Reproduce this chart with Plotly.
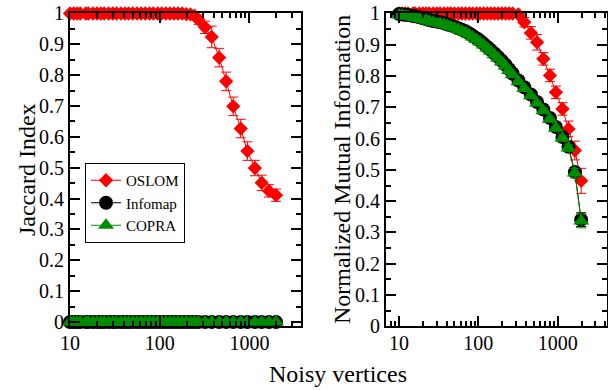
import plotly.graph_objects as go

# Number of noisy vertices added to the benchmark graph
noisy_vertices = [10, 11, 12, 13, 15, 16, 18, 20, 22, 24, 27, 30, 33, 37, 41, 45,
                  50, 56, 62, 69, 77, 85, 95, 105, 117, 130, 144, 160, 178, 198,
                  220, 244, 270, 320, 380, 460, 550, 660, 800, 950, 1150, 1370,
                  1650, 1980]

# Jaccard index
oslom_jaccard = [1.0, 1.0, 1.0, 1.0, 1.0, 1.0, 1.0, 1.0, 1.0, 1.0, 1.0, 1.0,
                 1.0, 1.0, 1.0, 1.0, 1.0, 1.0, 1.0, 1.0, 1.0, 1.0, 1.0, 1.0,
                 1.0, 1.0, 1.0, 1.0, 1.0, 0.998, 0.997, 0.993, 0.98, 0.955,
                 0.924, 0.857, 0.78, 0.699, 0.627, 0.554, 0.499, 0.451, 0.425,
                 0.411]
oslom_jaccard_err = [0, 0, 0, 0, 0, 0, 0, 0, 0, 0, 0, 0, 0, 0, 0, 0, 0, 0, 0, 0,
                     0, 0, 0, 0, 0, 0, 0, 0, 0, 0.004, 0.006, 0.01, 0.015, 0.02,
                     0.035, 0.03, 0.03, 0.03, 0.03, 0.03, 0.025, 0.025, 0.02,
                     0.02]
infomap_jaccard = [0.0, 0.0, 0.0, 0.0, 0.0, 0.0, 0.0, 0.0, 0.0, 0.0, 0.0, 0.0,
                   0.0, 0.0, 0.0, 0.0, 0.0, 0.0, 0.0, 0.0, 0.0, 0.0, 0.0, 0.0,
                   0.0, 0.0, 0.0, 0.0, 0.0, 0.0, 0.0, 0.0, 0.0, 0.0, 0.0, 0.0,
                   0.0, 0.0, 0.0, 0.0, 0.0, 0.0, 0.0, 0.0]
copra_jaccard = [0.0, 0.0, 0.0, 0.0, 0.0, 0.0, 0.0, 0.0, 0.0, 0.0, 0.0, 0.0,
                 0.0, 0.0, 0.0, 0.0, 0.0, 0.0, 0.0, 0.0, 0.0, 0.0, 0.0, 0.0,
                 0.0, 0.0, 0.0, 0.0, 0.0, 0.0, 0.0, 0.0, 0.0, 0.0, 0.0, 0.0,
                 0.0, 0.0, 0.0, 0.0, 0.0, 0.0, 0.0, 0.0]

# Normalized mutual information
oslom_nmi = [1.0, 1.0, 1.0, 1.0, 1.0, 1.0, 1.0, 1.0, 1.0, 1.0, 1.0, 1.0, 1.0,
             1.0, 1.0, 1.0, 1.0, 1.0, 1.0, 1.0, 1.0, 1.0, 1.0, 1.0, 1.0, 1.0,
             1.0, 1.0, 1.0, 1.0, 1.0, 1.0, 1.0, 0.997, 0.972, 0.938, 0.908,
             0.855, 0.802, 0.748, 0.695, 0.631, 0.562, 0.465]
oslom_nmi_err = [0, 0, 0, 0, 0, 0, 0, 0, 0, 0, 0, 0, 0, 0, 0, 0, 0, 0, 0, 0, 0,
                 0, 0, 0, 0, 0, 0, 0, 0, 0, 0, 0, 0.003, 0.008, 0.015, 0.02,
                 0.025, 0.02, 0.02, 0.02, 0.02, 0.025, 0.03, 0.04]
infomap_nmi = [0.998, 0.997, 0.996, 0.995, 0.992, 0.991, 0.988, 0.985, 0.982,
               0.979, 0.976, 0.974, 0.972, 0.969, 0.965, 0.962, 0.958, 0.953,
               0.948, 0.943, 0.936, 0.929, 0.921, 0.913, 0.903, 0.893, 0.883,
               0.872, 0.861, 0.849, 0.836, 0.822, 0.808, 0.786, 0.764, 0.741,
               0.717, 0.693, 0.666, 0.637, 0.605, 0.574, 0.493, 0.341]
infomap_nmi_err = [0.002, 0.002, 0.002, 0.002, 0.002, 0.002, 0.002, 0.002,
                   0.002, 0.002, 0.002, 0.002, 0.002, 0.002, 0.002, 0.002,
                   0.002, 0.002, 0.002, 0.002, 0.003, 0.003, 0.003, 0.003,
                   0.003, 0.003, 0.003, 0.003, 0.003, 0.003, 0.004, 0.004,
                   0.004, 0.004, 0.005, 0.005, 0.005, 0.006, 0.006, 0.007,
                   0.008, 0.01, 0.015, 0.022]
copra_nmi = [0.995, 0.994, 0.992, 0.991, 0.988, 0.987, 0.984, 0.981, 0.978,
             0.975, 0.972, 0.97, 0.968, 0.965, 0.961, 0.958, 0.954, 0.949,
             0.944, 0.939, 0.932, 0.925, 0.917, 0.909, 0.899, 0.889, 0.879,
             0.868, 0.857, 0.845, 0.832, 0.818, 0.804, 0.782, 0.76, 0.737,
             0.713, 0.689, 0.662, 0.633, 0.601, 0.57, 0.49, 0.337]
copra_nmi_err = [0.002, 0.002, 0.002, 0.002, 0.002, 0.002, 0.002, 0.002,
                 0.002, 0.002, 0.002, 0.002, 0.002, 0.002, 0.002, 0.002,
                 0.002, 0.002, 0.002, 0.002, 0.003, 0.003, 0.003, 0.003,
                 0.003, 0.003, 0.003, 0.003, 0.003, 0.003, 0.004, 0.004,
                 0.004, 0.004, 0.005, 0.005, 0.005, 0.006, 0.006, 0.007,
                 0.008, 0.01, 0.015, 0.022]

FONT = "Liberation Serif, Times New Roman, Times, serif"
RED = "#ff0000"
BLACK = "#000000"
GREEN = "#008c00"

series_style = {
    "OSLOM": dict(color=RED, symbol="diamond", size=11),
    "Infomap": dict(color=BLACK, symbol="circle", size=14),
    "COPRA": dict(color=GREEN, symbol="triangle-up", size=14),
}


def add_series(fig, name, y, err, xa, ya, show):
    st = series_style[name]
    fig.add_trace(go.Scatter(
        x=noisy_vertices, y=y, name=name, mode="lines+markers",
        xaxis=xa, yaxis=ya, showlegend=show, legendgroup=name,
        cliponaxis=False,
        line=dict(color=st["color"], width=1),
        marker=dict(symbol=st["symbol"], size=st["size"], color=st["color"],
                    line=dict(width=0)),
        error_y=dict(type="data", array=err, visible=err is not None,
                     color=st["color"], thickness=1, width=5),
    ))


fig = go.Figure()
add_series(fig, "OSLOM", oslom_jaccard, oslom_jaccard_err, "x", "y", True)
add_series(fig, "Infomap", infomap_jaccard, None, "x", "y", True)
add_series(fig, "COPRA", copra_jaccard, None, "x", "y", True)
add_series(fig, "OSLOM", oslom_nmi, oslom_nmi_err, "x2", "y2", False)
add_series(fig, "Infomap", infomap_nmi, infomap_nmi_err, "x2", "y2", False)
add_series(fig, "COPRA", copra_nmi, copra_nmi_err, "x2", "y2", False)

tickfont = dict(family=FONT, size=20, color="black")
minor_x = dict(ticks="inside", ticklen=5, tickwidth=1.5, tickcolor="black",
               dtick="D1", showgrid=False)
minor_y = dict(ticks="inside", ticklen=5, tickwidth=1.5, tickcolor="black",
               dtick=0.05, showgrid=False)

common_x = dict(type="log", dtick=1, ticks="inside", ticklen=10, tickwidth=1.5,
                tickcolor="black", showline=True, linecolor="black",
                linewidth=2, mirror="allticks", showgrid=False,
                zeroline=False, tickfont=tickfont, minor=minor_x,
                automargin=False, ticklabelstandoff=-2)
common_y = dict(dtick=0.1, ticks="inside", ticklen=10, tickwidth=1.5,
                tickcolor="black", showline=True, linecolor="black",
                linewidth=2, mirror="allticks", showgrid=False,
                zeroline=False, tickfont=tickfont, minor=minor_y,
                tickformat="~g", automargin=False)

y_dom = [0.1633, 0.9654]

fig.update_layout(
    template="none",
    width=608, height=390,
    margin=dict(l=0, r=0, t=0, b=0, pad=0, autoexpand=False),
    paper_bgcolor="white", plot_bgcolor="white",
    font=dict(family=FONT, color="black"),
    xaxis=dict(common_x, domain=[70 / 608, 301 / 608], range=[1.0, 3.575],
               anchor="y"),
    yaxis=dict(common_y, domain=y_dom, range=[-0.014, 1.0], anchor="x"),
    xaxis2=dict(common_x, domain=[386 / 608, 606.5 / 608],
                range=[0.836, 3.616], anchor="y2"),
    yaxis2=dict(common_y, domain=y_dom, range=[0.0, 1.0], anchor="x2"),
    legend=dict(x=85 / 608, y=1 - 163 / 390, xanchor="left", yanchor="top",
                bgcolor="white", bordercolor="black", borderwidth=1,
                font=dict(family=FONT, size=15, color="black"),
                tracegroupgap=0, itemwidth=30),
    annotations=[
        dict(text="Jaccard Index", x=27 / 608, y=0.564, xref="paper",
             yref="paper", textangle=-90, showarrow=False,
             font=dict(family=FONT, size=24), xanchor="center",
             yanchor="middle"),
        dict(text="Normalized Mutual Information", x=342 / 608, y=0.564,
             xref="paper", yref="paper", textangle=-90, showarrow=False,
             font=dict(family=FONT, size=24), xanchor="center",
             yanchor="middle"),
        dict(text="Noisy vertices", x=338 / 608, y=1 - 373.5 / 390,
             xref="paper", yref="paper", showarrow=False,
             font=dict(family=FONT, size=24), xanchor="center",
             yanchor="middle"),
    ],
)

fig.write_html("out.html")
